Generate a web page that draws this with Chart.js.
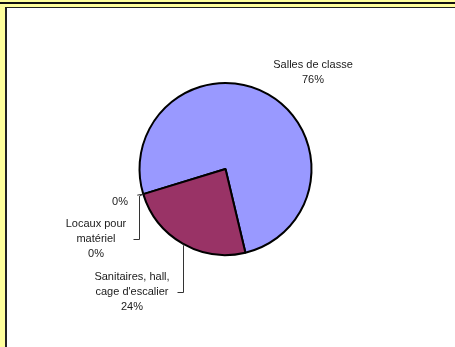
<!DOCTYPE html>
<html>
<head>
<meta charset="utf-8">
<script src="https://cdn.jsdelivr.net/npm/chart.js@4"></script>
<style>
    body { margin: 0; background: #FFFF9C; width: 455px; height: 347px; overflow: hidden; position: relative; }
    #topLine { position: absolute; left: 0; top: 2px; width: 455px; height: 2px; background: #111; }
    #frame { position: absolute; left: 5px; top: 7px; right: 0; bottom: 0; background: #fff; border-left: 2px solid #222; border-top: 1px solid #222; }
    #wrap { position: absolute; left: 0; top: 0; width: 455px; height: 347px; }
</style>
</head>
<body>
<div id="topLine"></div>
<div id="frame"></div>
<div id="wrap"><canvas id="pie"></canvas></div>
<script>
// categories & values (parts of the surface, in %)
const categories = ['Salles de classe', ['Sanitaires, hall,', "cage d'escalier"], ['Locaux pour', 'matériel'], '']
const values = [76, 24, 0, 0]
const sliceColors = ['#9999FF', '#993366', '#FFFFCC', '#CCFFFF']

// where each label text sits (center x, first line y) and the bend of its leader line
const labelPlace = [
    {x: 313, y: 65, leader: null},
    {x: 132, y: 277, leader: 'down', bendX: 0, endY: 292},
    {x: 96, y: 224, leader: 'down', bendX: -4, endY: 239},
    {x: 120, y: 202, leader: 'short'}
]

const pieLabels = {
    id: 'pieLabels',
    afterDraw(chart) {
        const ctx = chart.ctx
        const meta = chart.getDatasetMeta(0)
        const total = values.reduce((a, b) => a + b, 0)
        ctx.save()
        ctx.font = '11px "Liberation Sans", Arial, sans-serif'
        ctx.fillStyle = '#1a1a1a'
        ctx.textAlign = 'center'
        ctx.textBaseline = 'middle'
        ctx.strokeStyle = '#333'
        ctx.lineWidth = 1

        meta.data.forEach((arc, i) => {
            const p = labelPlace[i]
            let lines = categories[i]
            if (!Array.isArray(lines)) lines = lines ? [lines] : []
            lines = lines.concat([Math.round(values[i] / total * 100) + '%'])
            lines.forEach((t, k) => ctx.fillText(t, p.x, p.y + k * 15))

            // leader line from the middle of the slice edge
            const a = (arc.startAngle + arc.endAngle) / 2
            const ex = arc.x + Math.cos(a) * arc.outerRadius
            const ey = arc.y + Math.sin(a) * arc.outerRadius
            ctx.beginPath()
            if (p.leader === 'short') {
                ctx.moveTo(ex, ey)
                ctx.lineTo(ex - 6, ey + 1)
            } else if (p.leader === 'down') {
                const vx = Math.round(ex + p.bendX) + 0.5
                ctx.moveTo(ex, ey)
                ctx.lineTo(vx, ey + 2)
                ctx.lineTo(vx, p.endY + 0.5)
                ctx.lineTo(vx - 6, p.endY + 0.5)
            }
            ctx.stroke()
        })
        ctx.restore()
    }
}

new Chart(document.getElementById('pie'), {
    type: 'pie',
    data: {
        labels: categories,
        datasets: [{
            data: values,
            backgroundColor: sliceColors,
            borderColor: '#000',
            borderWidth: 2
        }]
    },
    options: {
        responsive: true,
        maintainAspectRatio: false,
        animation: false,
        rotation: 253,
        layout: {
            padding: {left: 138, right: 142, top: 82, bottom: 91}
        },
        plugins: {
            legend: { display: false },
            tooltip: { enabled: false }
        }
    },
    plugins: [pieLabels]
})
</script>
</body>
</html>
